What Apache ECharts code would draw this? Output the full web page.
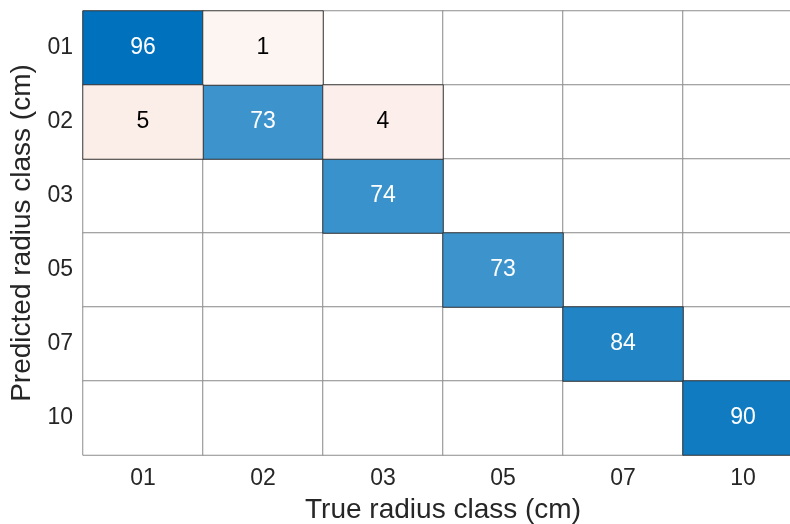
<!DOCTYPE html>
<html>
<head>
<meta charset="utf-8">
<script src="https://cdn.jsdelivr.net/npm/echarts@6/dist/echarts.min.js"></script>
<style>
  html, body { margin: 0; padding: 0; background: #fff; }
  #chart { width: 790px; height: 524px; }
</style>
</head>
<body>
<div id="chart"></div>
<script>
// Class labels (cm) shared by both axes
const classes = ['01', '02', '03', '05', '07', '10'];

// Confusion counts: rows = predicted class, columns = true class
const row01 = [96, 1, 0, 0, 0, 0];
const row02 = [5, 73, 4, 0, 0, 0];
const row03 = [0, 0, 74, 0, 0, 0];
const row05 = [0, 0, 0, 73, 0, 0];
const row07 = [0, 0, 0, 0, 84, 0];
const row10 = [0, 0, 0, 0, 0, 90];
const matrix = [row01, row02, row03, row05, row07, row10];

const emptyCells = [];
const diagCells = [];
const offCells = [];
matrix.forEach((row, r) => {
  row.forEach((v, c) => {
    const item = [c, r, v];
    if (v === 0) emptyCells.push(item);
    else if (r === c) diagCells.push(item);
    else offCells.push(item);
  });
});

const font = 'Liberation Sans, Arial, Helvetica, sans-serif';
const textColor = '#262626';

const chart = echarts.init(document.getElementById('chart'));
chart.setOption({
  animation: false,
  backgroundColor: '#ffffff',
  grid: { left: 83, top: 11, width: 720, height: 444, outerBoundsMode: 'none', containLabel: false },
  xAxis: {
    type: 'category',
    data: classes,
    name: 'True radius class (cm)',
    nameLocation: 'middle',
    nameGap: 41,
    nameTextStyle: { fontFamily: font, fontSize: 28, color: textColor },
    axisLine: { show: false },
    axisTick: { show: false },
    splitLine: { show: false },
    axisLabel: { fontFamily: font, fontSize: 23, color: textColor, margin: 12 }
  },
  yAxis: {
    type: 'category',
    data: classes,
    inverse: true,
    name: 'Predicted radius class (cm)',
    nameLocation: 'middle',
    nameGap: 41,
    nameTextStyle: { fontFamily: font, fontSize: 28, color: textColor },
    axisLine: { show: false },
    axisTick: { show: false },
    splitLine: { show: false },
    axisLabel: { fontFamily: font, fontSize: 23, color: textColor, margin: 10 }
  },
  visualMap: [
    {
      show: false,
      seriesIndex: 1,
      dimension: 2,
      min: 0,
      max: 96,
      inRange: { color: ['#ffffff', '#0072bd'] }
    },
    {
      show: false,
      seriesIndex: 2,
      dimension: 2,
      min: 1,
      max: 5,
      inRange: { color: ['#fdf5f2', '#fbede8'] }
    }
  ],
  series: [
    {
      type: 'heatmap',
      data: emptyCells,
      itemStyle: { color: '#ffffff', borderColor: '#8c8c8c', borderWidth: 1 },
      label: { show: false },
      emphasis: { disabled: true }
    },
    {
      type: 'heatmap',
      data: diagCells,
      itemStyle: { borderColor: '#333333', borderWidth: 1 },
      label: { show: true, color: '#ffffff', fontFamily: font, fontSize: 23,
               formatter: p => p.value[2] },
      emphasis: { disabled: true }
    },
    {
      type: 'heatmap',
      data: offCells,
      itemStyle: { borderColor: '#333333', borderWidth: 1 },
      label: { show: true, color: '#000000', fontFamily: font, fontSize: 23,
               formatter: p => p.value[2] },
      emphasis: { disabled: true }
    }
  ]
});
</script>
</body>
</html>
